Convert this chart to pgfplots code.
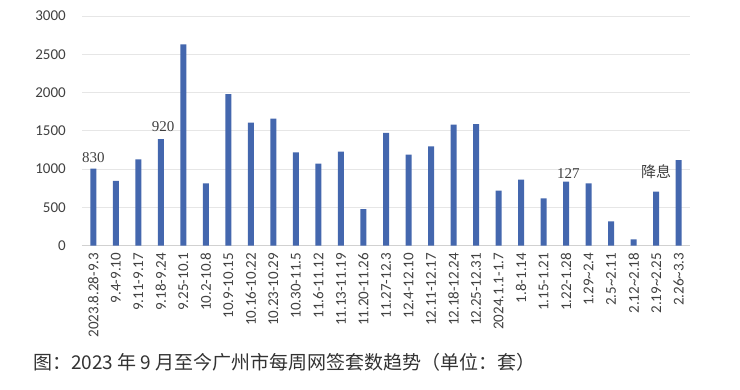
\documentclass[border=0pt]{standalone}
\usepackage{pgfplots}
\pgfplotsset{compat=1.18}
\usepackage{fontspec}
\setmainfont{Carlito}
\newfontfamily\serifnum{Liberation Serif}
\newfontfamily\cjk{Noto Sans CJK SC}
\definecolor{barblue}{HTML}{4467AE}
\definecolor{tickgray}{HTML}{404040}
\definecolor{gridgray}{HTML}{E6E6E6}
\begin{document}
\begin{tikzpicture}[x=1pt,y=1pt]
\useasboundingbox (0,0) rectangle (740,390);
\begin{axis}[
  at={(82pt,144.3pt)}, anchor=south west,
  width=608pt, height=229.7pt, scale only axis,
  xmin=-0.5, xmax=26.5, ymin=0, ymax=3000,
  ytick={0,500,...,3000},
  xtick={0,...,26},
  xticklabels={2023.8.28-9.3,9.4-9.10,9.11-9.17,9.18-9.24,9.25-10.1,10.2-10.8,10.9-10.15,10.16-10.22,10.23-10.29,10.30-11.5,11.6-11.12,11.13-11.19,11.20-11.26,11.27-12.3,12.4-12.10,12.11-12.17,12.18-12.24,12.25-12.31,2024.1.1-1.7,1.8-1.14,1.15-1.21,1.22-1.28,1.29\textasciitilde 2.4,2.5\textasciitilde 2.11,2.12\textasciitilde 2.18,2.19\textasciitilde 2.25,2.26\textasciitilde 3.3},
  axis x line*=bottom, axis y line*=left,
  x axis line style={draw=gridgray!80!gray, line width=0.8pt},
  y axis line style={draw=none},
  ymajorgrids, grid style={draw=gridgray, line width=0.8pt},
  major tick length=0pt,
  /pgf/number format/assume math mode=true,
  /pgf/number format/1000 sep={},
  yticklabel style={font=\fontsize{15}{18}\selectfont, text=tickgray, inner sep=0pt, anchor=east},
  yticklabel shift={16pt},
  xticklabel style={font=\fontsize{15}{18}\selectfont, text=tickgray, inner sep=0pt, rotate=90, anchor=east},
  xticklabel shift={7pt},
  ybar, bar width=6pt,
  clip=false,
]
\addplot[fill=barblue, draw=none] coordinates {
(0,1005) (1,845) (2,1128) (3,1393) (4,2630) (5,815) (6,1981) (7,1606) (8,1659)
(9,1220) (10,1071) (11,1228) (12,479) (13,1472) (14,1188) (15,1298) (16,1580)
(17,1589) (18,718) (19,862) (20,619) (21,836) (22,815) (23,318) (24,84) (25,705) (26,1119)
};
\node[font=\serifnum\fontsize{15}{18}\selectfont, text=tickgray, anchor=base] at (axis cs:0,1093) {830};
\node[font=\serifnum\fontsize{15}{18}\selectfont, text=tickgray, anchor=base] at (axis cs:3.1,1489) {920};
\node[font=\serifnum\fontsize{15}{18}\selectfont, text=tickgray, anchor=base] at (axis cs:21.1,884) {127};
\node[font=\cjk\fontsize{15}{18}\selectfont, text=tickgray, anchor=base] at (axis cs:25,897) {降息};
\end{axis}
\node[font=\cjk\fontsize{19}{22}\selectfont, text=black!80, anchor=base west, inner sep=0pt] at (33,20) {图：2023 年 9 月至今广州市每周网签套数趋势（单位：套）};
\end{tikzpicture}
\end{document}
